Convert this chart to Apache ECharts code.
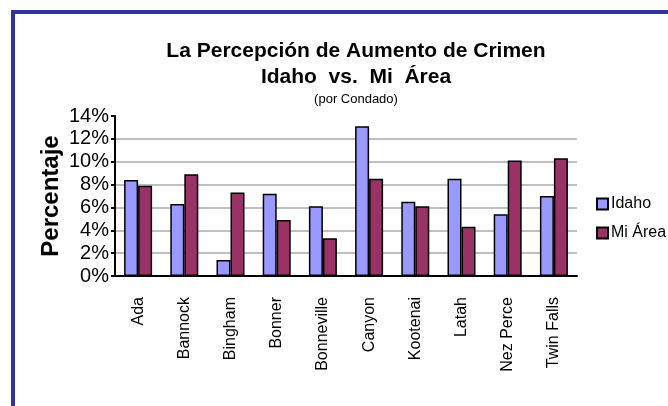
<!DOCTYPE html>
<html>
<head>
<meta charset="utf-8">
<script src="https://cdn.jsdelivr.net/npm/echarts@6/dist/echarts.min.js"></script>
<style>
  html, body { margin: 0; padding: 0; background: #fff; }
  #chart { width: 668px; height: 406px; }
</style>
</head>
<body>
<div id="chart"></div>
<script>
// counties along the x axis
var counties = ['Ada', 'Bannock', 'Bingham', 'Bonner', 'Bonneville', 'Canyon', 'Kootenai', 'Latah', 'Nez Perce', 'Twin Falls']
// percent values
var idaho = [8.4, 6.3, 1.4, 7.2, 6.1, 13.1, 6.5, 8.5, 5.4, 7.0]
var miArea = [7.9, 8.9, 7.3, 4.9, 3.3, 8.5, 6.1, 4.3, 10.1, 10.3]
var seriesNames = ['Idaho', 'Mi Área']

var font = 'Liberation Sans, Arial, sans-serif'
var chart = echarts.init(document.getElementById('chart'))

chart.setOption({
  animation: false,
  backgroundColor: '#fff',
  title: {
    text: 'La Percepción de Aumento de Crimen\nIdaho  vs.  Mi  Área',
    subtext: '(por Condado)',
    left: 356,
    top: 38,
    textAlign: 'center',
    padding: 0,
    itemGap: 3,
    textStyle: {
      fontFamily: font,
      fontSize: 21,
      fontWeight: 'bold',
      color: '#000',
      lineHeight: 26
    },
    subtextStyle: {
      fontFamily: font,
      fontSize: 13,
      color: '#000'
    }
  },
  graphic: [
    {
      type: 'rect',
      shape: { x: 13, y: 12, width: 720, height: 480 },
      style: { fill: 'none', stroke: '#333399', lineWidth: 4 },
      silent: true
    }
  ],
  legend: {
    orient: 'vertical',
    left: 591,
    top: 191,
    itemWidth: 11,
    itemHeight: 11,
    itemGap: 13,
    icon: 'rect',
    data: seriesNames,
    textStyle: {
      fontFamily: font,
      fontSize: 16,
      color: '#000',
      padding: [0, 0, 0, -2]
    }
  },
  grid: {
    left: 115,
    right: 91,
    top: 116,
    bottom: 130
  },
  xAxis: {
    type: 'category',
    data: counties,
    axisLine: { lineStyle: { color: '#000', width: 2 } },
    axisTick: { length: 5, lineStyle: { color: '#000', width: 2 } },
    axisLabel: {
      rotate: 90,
      margin: 21,
      interval: 0,
      fontFamily: font,
      fontSize: 16,
      color: '#000'
    }
  },
  yAxis: {
    type: 'value',
    min: 0,
    max: 14,
    interval: 2,
    name: 'Percentaje',
    nameLocation: 'middle',
    nameRotate: 90,
    nameGap: 52,
    nameMoveOverlap: false,
    nameTextStyle: {
      fontFamily: font,
      fontSize: 24,
      fontWeight: 'bold',
      color: '#000'
    },
    axisLine: { show: true, lineStyle: { color: '#000', width: 2 } },
    axisTick: { show: true, length: 4, lineStyle: { color: '#000', width: 2 } },
    axisLabel: {
      formatter: '{value}%',
      margin: 6,
      fontFamily: font,
      fontSize: 20,
      color: '#000'
    },
    splitLine: {
      lineStyle: {
        color: ['#c0c0c0', '#c0c0c0', '#c0c0c0', '#c0c0c0', '#c0c0c0', '#c0c0c0', '#c0c0c0', 'rgba(0,0,0,0)'],
        width: 2
      }
    }
  },
  series: [
    {
      name: seriesNames[0],
      type: 'bar',
      data: idaho,
      barWidth: 14,
      barGap: '0%',
      itemStyle: { color: '#9999ff', borderColor: '#000', borderWidth: 1.5 }
    },
    {
      name: seriesNames[1],
      type: 'bar',
      data: miArea,
      barWidth: 14,
      barGap: '0%',
      itemStyle: { color: '#993366', borderColor: '#000', borderWidth: 1.5 }
    }
  ]
})
</script>
</body>
</html>
